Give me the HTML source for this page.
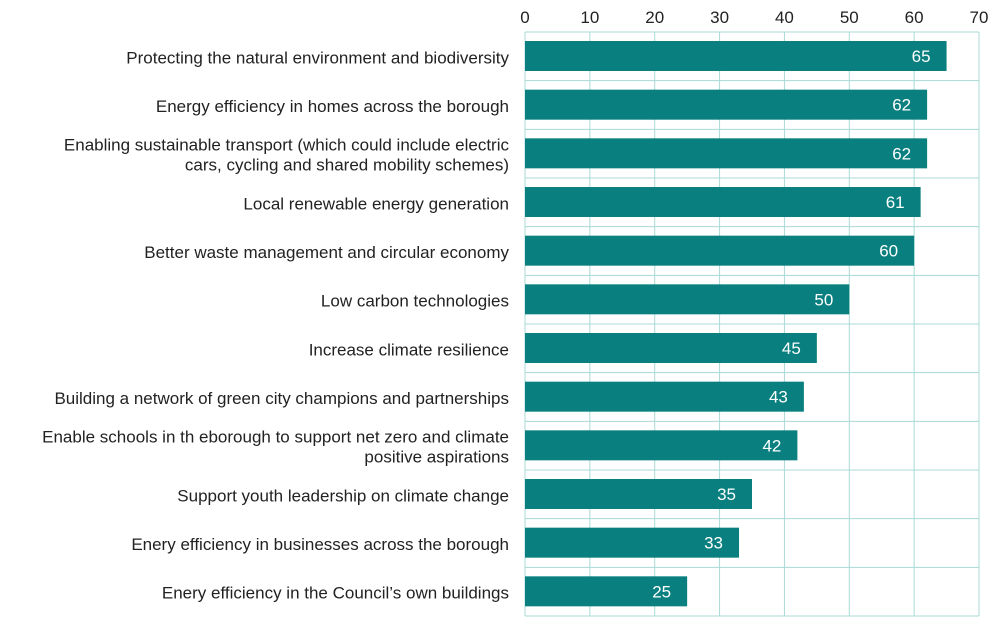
<!DOCTYPE html>
<html><head><meta charset="utf-8"><style>
body{margin:0;background:#fff;}
svg{display:block;font-family:"Liberation Sans",sans-serif;}
</style></head><body>
<svg id="chart" width="1000" height="627"></svg>
<script>
const categories=[
["Protecting the natural environment and biodiversity"],
["Energy efficiency in homes across the borough"],
["Enabling sustainable transport (which could include electric","cars, cycling and shared mobility schemes)"],
["Local renewable energy generation"],
["Better waste management and circular economy"],
["Low carbon technologies"],
["Increase climate resilience"],
["Building a network of green city champions and partnerships"],
["Enable schools in th eborough to support net zero and climate","positive aspirations"],
["Support youth leadership on climate change"],
["Enery efficiency in businesses across the borough"],
["Enery efficiency in the Council’s own buildings"]];
const values=[65,62,62,61,60,50,45,43,42,35,33,25];
const ticks=[0,10,20,30,40,50,60,70];
const NS="http://www.w3.org/2000/svg";
const svg=document.getElementById('chart');
const X0=525,X1=979,Y0=32,Y1=616,MAX=70;
const x=v=>X0+(X1-X0)*v/MAX;
const rowH=(Y1-Y0)/categories.length;
const y=i=>Y0+rowH*i;
function el(t,a){const e=document.createElementNS(NS,t);for(const k in a)e.setAttribute(k,a[k]);svg.appendChild(e);return e;}
for(let i=0;i<=categories.length;i++){
 const l=el('line',{x1:X0,x2:X1,y1:y(i),y2:y(i),stroke:'#a9dad6','stroke-width':1});
 
 
}
ticks.forEach(t=>{
 const l=el('line',{x1:x(t),x2:x(t),y1:Y0,y2:Y1,stroke:'#a9dad6','stroke-width':1});
 
 
 const tx=el('text',{x:x(t),y:23,'text-anchor':'middle','font-size':17,fill:'#222'});
 tx.textContent=t;
 
 
});
values.forEach((v,i)=>{
 const b=el('rect',{x:X0,y:y(i)+9,width:x(v)-X0,height:30,fill:'#097f7f'});
 
 
 const vl=el('text',{x:x(v)-16,y:y(i)+30,'text-anchor':'end','font-size':17,fill:'#fff'});
 vl.textContent=v;
 
 
 const lines=categories[i];
 const cy=y(i)+rowH/2;
 lines.forEach((s,j)=>{
  const t=el('text',{x:509,y:cy+7+(j-(lines.length-1)/2)*20,'text-anchor':'end','font-size':17,fill:'#222'});
  t.textContent=s;
  
  
 });
});
</script>
</body></html>
